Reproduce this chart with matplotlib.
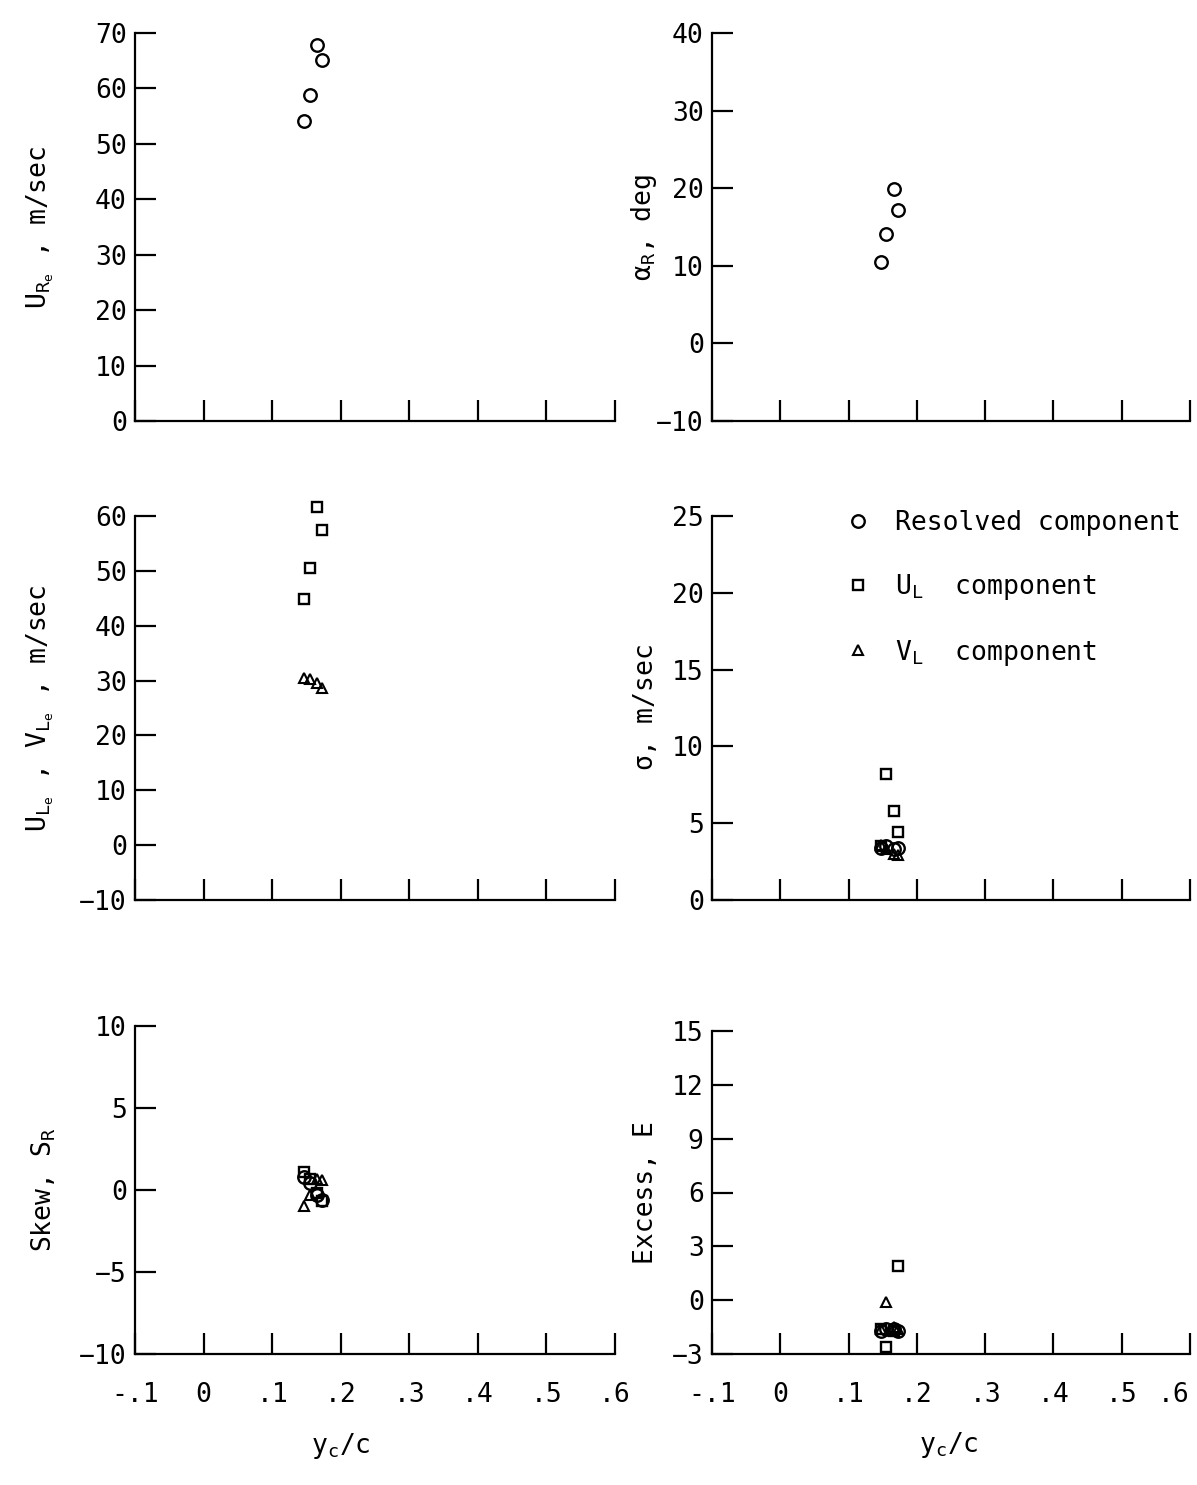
import numpy as np
import matplotlib
matplotlib.use('Agg')
import matplotlib.pyplot as plt
from matplotlib.ticker import FixedLocator

plt.rcParams['font.family'] = ['DejaVu Sans Mono', 'DejaVu Sans']
plt.rcParams['mathtext.fontset'] = 'custom'
plt.rcParams['mathtext.rm'] = 'DejaVu Sans Mono'
plt.rcParams['mathtext.it'] = 'DejaVu Sans Mono'
plt.rcParams['mathtext.default'] = 'regular'

# station positions y_c/c
yc = [0.147, 0.155, 0.166, 0.172]

# mean velocity, resolved
u_re = [54.2, 58.8, 67.9, 65.2]
alpha_r = [10.5, 14.1, 19.9, 17.2]

# mean velocity, laser components
u_le = [44.8, 50.5, 61.6, 57.4]
v_le = [30.5, 30.2, 29.5, 28.6]

# rms fluctuation
sig_r = [3.4, 3.5, 3.3, 3.4]
sig_u = [3.5, 8.2, 5.8, 4.4]
sig_v = [3.6, 3.3, 3.0, 2.9]

# skewness
skew_r = [0.8, 0.4, -0.3, -0.6]
skew_u = [1.1, 0.7, -0.2, -0.7]
skew_v = [-1.0, -0.3, 0.7, 0.6]

# excess (flatness - 3)
exc_r = [-1.7, -1.6, -1.6, -1.7]
exc_u = [-1.6, -2.6, -1.7, 1.9]
exc_v = [-1.6, -0.1, -1.5, -1.6]

xticks = [-0.1, 0, 0.1, 0.2, 0.3, 0.4, 0.5, 0.6]
xticklabels = ['-.1', '0', '.1', '.2', '.3', '.4', '.5', '.6']

FS = 19
W, H = 1197, 1485
fig = plt.figure(figsize=(W / 100, H / 100), dpi=100)


def make_ax(l, t, r, b):
    return fig.add_axes([l / W, 1 - b / H, (r - l) / W, (b - t) / H])


ax1 = make_ax(135, 33, 615, 421)
ax2 = make_ax(712, 33, 1190, 421)
ax3 = make_ax(135, 516, 615, 900)
ax4 = make_ax(712, 516, 1190, 900)
ax5 = make_ax(135, 1026, 615, 1354)
ax6 = make_ax(712, 1031, 1190, 1354)

circ = dict(marker='o', ms=9, mfc='none', mec='black', mew=1.7, ls='none', clip_on=False)
sq = dict(marker='s', ms=7.5, mfc='none', mec='black', mew=1.7, ls='none', clip_on=False)
tri = dict(marker='^', ms=6.5, mfc='none', mec='black', mew=1.5, ls='none', clip_on=False)

ax1.plot(yc, u_re, **circ)
ax2.plot(yc, alpha_r, **circ)
ax3.plot(yc, u_le, **sq)
ax3.plot(yc, v_le, **tri)
ax4.plot(yc, sig_r, **circ)
ax4.plot(yc, sig_u, **sq)
ax4.plot(yc, sig_v, **tri)
ax5.plot(yc, skew_r, **circ)
ax5.plot(yc, skew_u, **sq)
ax5.plot(yc, skew_v, **tri)
ax6.plot(yc, exc_r, **circ)
ax6.plot(yc, exc_u, **sq)
ax6.plot(yc, exc_v, **tri)

setup = [
    (ax1, (0, 70), 10, r'$U_{R_e}$ , m/sec', -0.165),
    (ax2, (-10, 40), 10, r'$\alpha_R$, deg', -0.11),
    (ax3, (-10, 60), 10, r'$U_{L_e}$ , $V_{L_e}$ , m/sec', -0.165),
    (ax4, (0, 25), 5, r'$\sigma$, m/sec', -0.11),
    (ax5, (-10, 10), 5, r'Skew, $S_R$', -0.16),
    (ax6, (-3, 15), 3, r'Excess, E', -0.11),
]
for ax, ylim, step, ylabel, lx in setup:
    ax.set_xlim(-0.1, 0.6)
    ax.set_ylim(*ylim)
    ax.yaxis.set_major_locator(FixedLocator(np.arange(ylim[0], ylim[1] + 0.1, step)))
    ax.set_xticks(xticks)
    ax.spines['top'].set_visible(False)
    ax.spines['right'].set_visible(False)
    for s in ['left', 'bottom']:
        ax.spines[s].set_linewidth(1.6)
    ax.tick_params(direction='in', length=15, width=1.6, labelsize=FS)
    ax.tick_params(axis='x', pad=20)
    ax.tick_params(axis='y', pad=6)
    ax.set_ylabel(ylabel, fontsize=FS)
    ax.yaxis.set_label_coords(lx, 0.5)
    if ax in (ax5, ax6):
        ax.set_xticklabels(xticklabels)
    else:
        ax.set_xticklabels([])

ax6.get_xticklabels()[-1].set_horizontalalignment('right')

ax5.set_xlabel(r'$y_c/c$', fontsize=FS)
ax5.xaxis.set_label_coords(0.429, -0.235)
ax6.set_xlabel(r'$y_c/c$', fontsize=FS)
ax6.xaxis.set_label_coords(0.496, -0.235)

h1, = ax4.plot([], [], **circ)
h2, = ax4.plot([], [], **sq)
h3, = ax4.plot([], [], **tri)
ax4.legend([h1, h2, h3],
           ['Resolved component', r'$U_L$  component', r'$V_L$  component'],
           loc='upper left', bbox_to_anchor=(0.25, 1.042), frameon=False,
           fontsize=FS, labelspacing=1.35, handletextpad=0.8,
           handlelength=1.2, borderaxespad=0)

fig.savefig('out.png', dpi=100)
